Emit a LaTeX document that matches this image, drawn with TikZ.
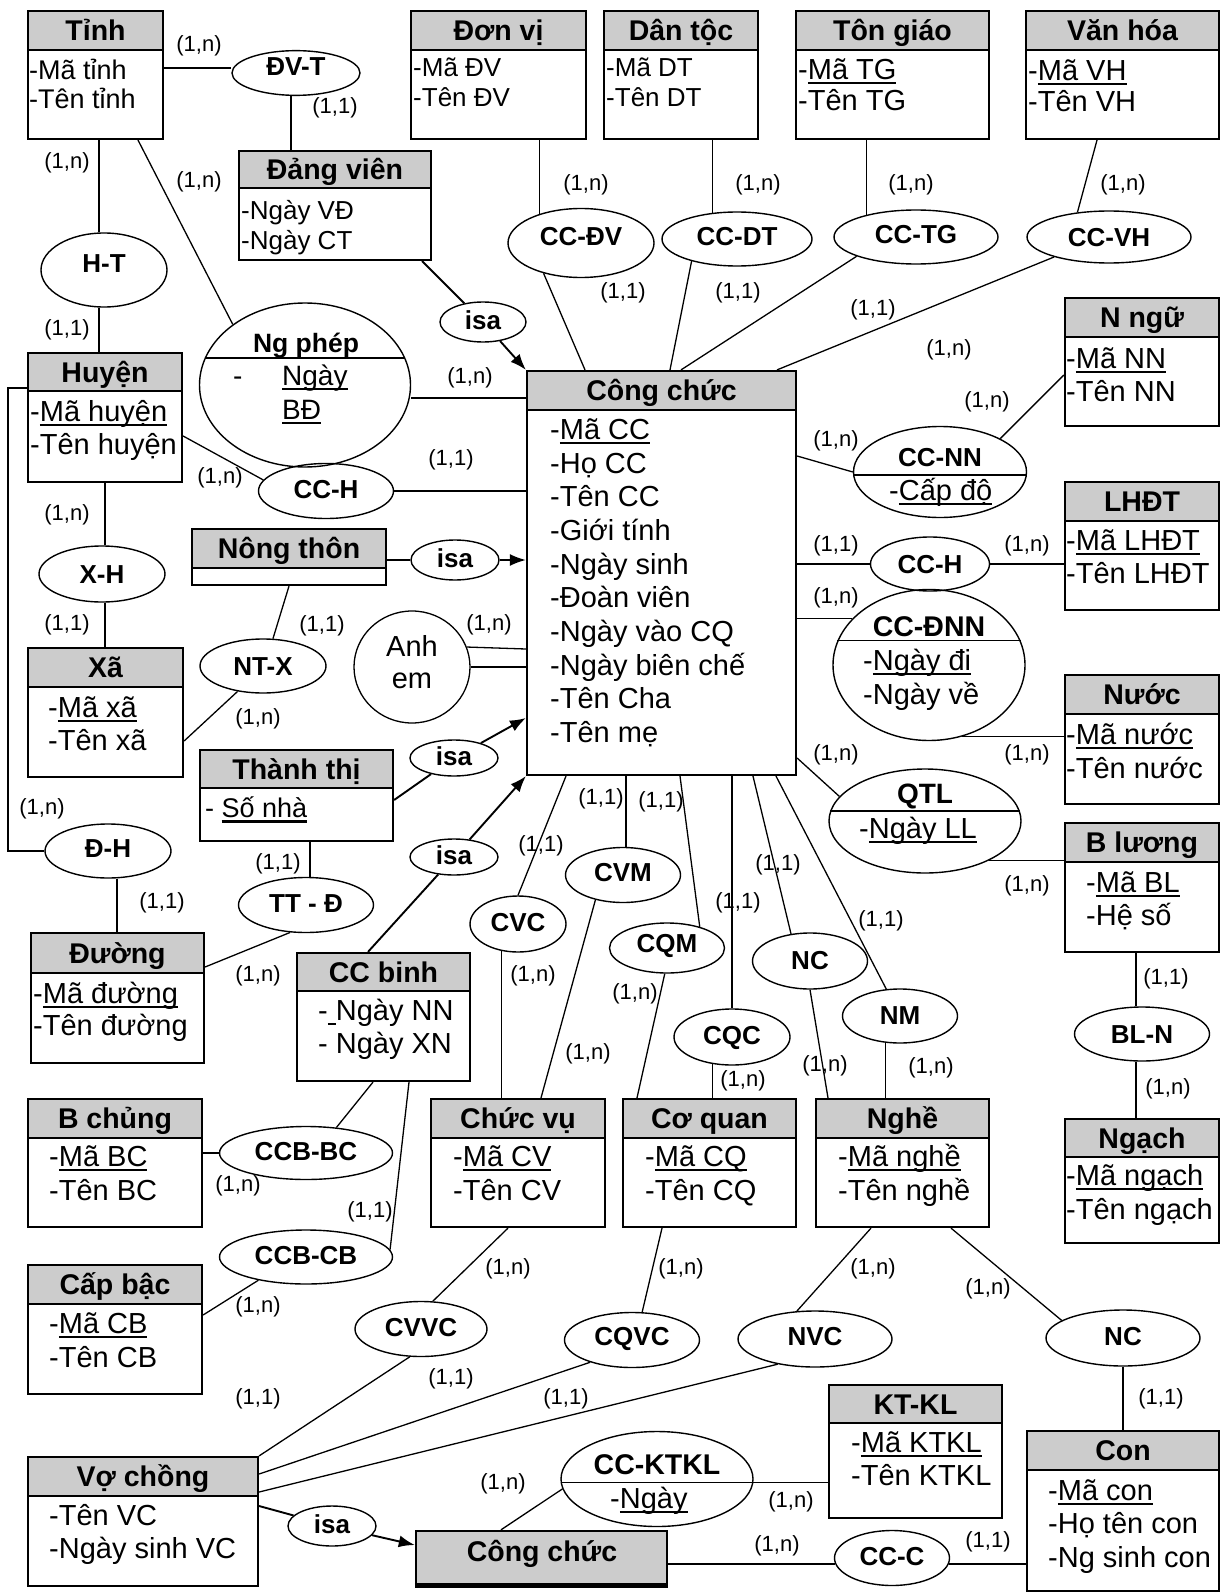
\documentclass[tikz,border=0pt]{standalone}
\usepackage{fontspec}
\setmainfont{Liberation Sans}
\usetikzlibrary{shapes.geometric,fit,arrows.meta}
\definecolor{hdr}{RGB}{204,204,204}
\newcommand\ul[1]{\setbox0=\hbox{#1}\rlap{\rule[-5pt]{\wd0}{2.2pt}}\box0}
\newcommand\fsz[1]{\fontsize{#1pt}{#1pt}\selectfont}
\newcommand\ttlfont{\bfseries\fsz{28.5}}
\newcommand\relfont{\bfseries\fsz{26}}
\newcommand\labfont{\fsz{22}}
\newcommand\ent[7]{%
  \node[ebox, fit={(#2,#3) (#4,#6)}] (#1) {};
  \node[ehead, fit={(#2,#3) (#4,#5)}] (#1h) {};
  \node[ttl] (#1t) at (#1h.center) {#7};}
\newcommand\lab[3]{\node[lab] (#1) at (#2) {#3};}
\tikzset{
  ebox/.style={draw, line width=2.2pt, fill=white, inner sep=0pt},
  ehead/.style={draw, line width=2.4pt, fill=hdr, inner sep=0pt},
  ttl/.style={inner sep=0pt, font=\ttlfont, text height=20.4pt, text depth=0pt},
  att/.style={anchor=west, inner sep=0pt, font=\fsz{29}, text height=20.8pt, text depth=0pt},
  att27/.style={att, font=\fsz{27}, text height=19.3pt},
  att26/.style={att, font=\fsz{26}, text height=18.6pt},
  rel/.style={ellipse, draw, line width=1.4pt, inner sep=0pt, font=\relfont, text height=18.6pt, text depth=4pt},
  sz/.style 2 args={minimum width=#1pt, minimum height=#2pt},
  rtitle/.style={inner sep=0pt, font=\relfont, text height=18.6pt, text depth=0pt},
  lab/.style={inner sep=0pt, font=\labfont},
  ln/.style={line width=1.3pt},
  isaln/.style={line width=1.9pt},
  arr/.style={isaln, -{Latex[length=16pt,width=12pt]}},
}
\begin{document}
\begin{tikzpicture}[x=1pt,y=-1pt]
\fill[white] (0,0) rectangle (1226,1594);
\useasboundingbox (0,0) rectangle (1226,1594);
% ---------------- entities
\ent{tinh}{28}{11}{163}{50}{139}{Tỉnh}
\ent{dv}{411}{11}{586}{50}{139}{Đơn vị}
\ent{dt}{604}{11}{758}{50}{139}{Dân tộc}
\ent{tg}{796}{11}{989}{50}{139}{Tôn giáo}
\ent{vh}{1026}{11}{1219}{50}{139}{Văn hóa}
\ent{dang}{239}{151}{431}{188}{260}{Đảng viên}
\ent{nngu}{1065}{298}{1219}{337}{426}{N ngữ}
\ent{huyen}{28}{353}{182}{391}{482}{Huyện}
\ent{cc}{527}{371}{796}{410}{775}{Công chức}
\ent{lhdt}{1065}{482}{1219}{521}{610}{LHĐT}
\ent{nt}{192}{529}{386}{568}{585}{Nông thôn}
\ent{xa}{28}{648}{183}{687}{777}{Xã}
\ent{nuoc}{1065}{675}{1219}{714}{804}{Nước}
\ent{tt}{200}{750}{393}{788}{841}{Thành thị}
\ent{bl}{1065}{823}{1219}{862}{952}{B lương}
\ent{duong}{31}{933}{204}{973}{1063}{Đường}
\ent{ccb}{297}{953}{470}{991}{1081}{CC binh}
\ent{bc}{28}{1099}{202}{1138}{1227}{B chủng}
\ent{cv}{431}{1099}{605}{1138}{1227}{Chức vụ}
\ent{cq}{623}{1099}{796}{1138}{1227}{Cơ quan}
\ent{nghe}{816}{1099}{989}{1138}{1227}{Nghề}
\ent{ngach}{1065}{1119}{1219}{1157}{1243}{Ngạch}
\ent{cb}{28}{1265}{202}{1304}{1394}{Cấp bậc}
\ent{ktkl}{829}{1385}{1002}{1423}{1518}{KT-KL}
\ent{con}{1027}{1431}{1219}{1470}{1591}{Con}
\ent{vc}{28}{1457}{258}{1496}{1586}{Vợ chồng}
\node[ehead, fit={(416,1531) (667,1584)}] (cc2) {};
\draw[line width=5pt] (cc2.south west) -- (cc2.south east);
\node[ttl] (cc2t) at (542,1551) {Công chức};
% ---------------- attributes
\node[att27] (tinh-a1) at (29,70) {-Mã tỉnh};
\node[att27] (tinh-a2) at (29,99) {-Tên tỉnh};
\node[att26] (dv-a1) at (413,67) {-Mã ĐV};
\node[att26] (dv-a2) at (413,97) {-Tên ĐV};
\node[att26] (dt-a1) at (606,67) {-Mã DT};
\node[att26] (dt-a2) at (606,97) {-Tên DT};
\node[att] (tg-a1) at (798,69) {-\ul{Mã TG}};
\node[att] (tg-a2) at (798,100) {-Tên TG};
\node[att] (vh-a1) at (1028,70) {-\ul{Mã VH}};
\node[att] (vh-a2) at (1028,101) {-Tên VH};
\node[att26] (dang-a1) at (241,210) {-Ngày VĐ};
\node[att26] (dang-a2) at (241,240) {-Ngày CT};
\node[att] (nngu-a1) at (1066,358) {-\ul{Mã NN}};
\node[att] (nngu-a2) at (1066,391) {-Tên NN};
\node[att] (huyen-a1) at (30,411) {-\ul{Mã huyện}};
\node[att] (huyen-a2) at (30,444) {-Tên huyện};
\node[att] (cc-a1) at (550,429) {-\ul{Mã CC}};
\node[att] (cc-a2) at (550,463) {-Họ CC};
\node[att] (cc-a3) at (550,496) {-Tên CC};
\node[att] (cc-a4) at (550,530) {-Giới tính};
\node[att] (cc-a5) at (550,564) {-Ngày sinh};
\node[att] (cc-a6) at (550,597) {-Đoàn viên};
\node[att] (cc-a7) at (550,631) {-Ngày vào CQ};
\node[att] (cc-a8) at (550,665) {-Ngày biên chế};
\node[att] (cc-a9) at (550,698) {-Tên Cha};
\node[att] (cc-a10) at (550,732) {-Tên mẹ};
\node[att] (lhdt-a1) at (1066,540) {-\ul{Mã LHĐT}};
\node[att] (lhdt-a2) at (1066,573) {-Tên LHĐT};
\node[att] (xa-a1) at (48,707) {-\ul{Mã xã}};
\node[att] (xa-a2) at (48,740) {-Tên xã};
\node[att] (nuoc-a1) at (1066,734) {-\ul{Mã nước}};
\node[att] (nuoc-a2) at (1066,768) {-Tên nước};
\node[att27] (tt-a1) at (205,808) {- \ul{Số nhà}};
\node[att] (bl-a1) at (1086,882) {-\ul{Mã BL}};
\node[att] (bl-a2) at (1086,915) {-Hệ số};
\node[att] (duong-a1) at (33,993) {-\ul{Mã đường}};
\node[att] (duong-a2) at (33,1025) {-Tên đường};
\node[att] (ccb-a1) at (318,1010) {-\ul{\ }Ngày NN};
\node[att] (ccb-a2) at (318,1043) {- Ngày XN};
\node[att] (bc-a1) at (49,1156) {-\ul{Mã BC}};
\node[att] (bc-a2) at (49,1190) {-Tên BC};
\node[att] (cv-a1) at (453,1156) {-\ul{Mã CV}};
\node[att] (cv-a2) at (453,1190) {-Tên CV};
\node[att] (cq-a1) at (645,1156) {-\ul{Mã CQ}};
\node[att] (cq-a2) at (645,1190) {-Tên CQ};
\node[att] (nghe-a1) at (838,1156) {-\ul{Mã nghề}};
\node[att] (nghe-a2) at (838,1190) {-Tên nghề};
\node[att] (ngach-a1) at (1066,1175) {-\ul{Mã ngạch}};
\node[att] (ngach-a2) at (1066,1209) {-Tên ngạch};
\node[att] (cb-a1) at (49,1323) {-\ul{Mã CB}};
\node[att] (cb-a2) at (49,1357) {-Tên CB};
\node[att] (ktkl-a1) at (851,1442) {-\ul{Mã KTKL}};
\node[att] (ktkl-a2) at (851,1475) {-Tên KTKL};
\node[att] (con-a1) at (1048,1490) {-\ul{Mã con}};
\node[att] (con-a2) at (1048,1523) {-Họ tên con};
\node[att] (con-a3) at (1048,1557) {-Ng sinh con};
\node[att] (vc-a1) at (49,1515) {-Tên VC};
\node[att] (vc-a2) at (49,1548) {-Ngày sinh VC};
% ---------------- relationships
\node[rel, sz={128}{43}, text depth=13pt] (dvt) at (296,73) {ĐV-T};
\node[rel, sz={126}{74}, text depth=13pt] (ht) at (104,270) {H-T};
\node[rel, sz={146}{69}, text depth=14pt] (ccdv) at (581,243) {CC-ĐV};
\node[rel, sz={150}{54}, text depth=6pt] (ccdt) at (737,239) {CC-DT};
\node[rel, sz={164}{54}, text depth=6pt] (cctg) at (916,237) {CC-TG};
\node[rel, sz={164}{52}, text depth=0pt] (ccvh) at (1109,237) {CC-VH};
\node[rel, sz={86}{40}] (isa1) at (483,322) {isa};
\node[rel, sz={135}{55}] (cch1) at (326,491) {CC-H};
\node[rel, sz={119}{54}, text depth=0pt] (cch2) at (930,564) {CC-H};
\node[rel, sz={126}{56}, text depth=0pt] (xh) at (102,574) {X-H};
\node[rel, sz={88}{40}] (isa2) at (455,560) {isa};
\node[rel, sz={126}{54}, text depth=0pt] (ntx) at (263,666) {NT-X};
\node[rel, sz={88}{36}] (isa3) at (454,758) {isa};
\node[rel, sz={126}{54}, text depth=5pt] (dh) at (108,851) {Đ-H};
\node[rel, sz={135}{55}, text depth=3pt] (ttd) at (306,905) {TT - Đ};
\node[rel, sz={88}{36}] (isa4) at (454,857) {isa};
\node[rel, sz={96}{56}] (cvc) at (518,924) {CVC};
\node[rel, sz={115}{55}, text depth=6pt] (cvm) at (623,875) {CVM};
\node[rel, sz={115}{50}, text depth=9pt] (cqm) at (667,948) {CQM};
\node[rel, sz={116}{56}] (cqc) at (732,1037) {CQC};
\node[rel, sz={115}{56}, text depth=2pt] (nc1) at (810,961) {NC};
\node[rel, sz={115}{54}, text depth=2pt] (nm) at (900,1016) {NM};
\node[rel, sz={135}{54}, text depth=0pt] (bln) at (1142,1034) {BL-N};
\node[rel, sz={173}{53}] (ccbbc) at (306,1153) {CCB-BC};
\node[rel, sz={173}{54}, text depth=3pt] (ccbcb) at (306,1257) {CCB-CB};
\node[rel, sz={132}{55}] (cvvc) at (421,1329) {CVVC};
\node[rel, sz={135}{55}, text depth=7pt] (cqvc) at (632,1340) {CQVC};
\node[rel, sz={154}{56}, text depth=6pt] (nvc) at (815,1339) {NVC};
\node[rel, sz={154}{56}, text depth=3pt] (nc2) at (1123,1338) {NC};
\node[rel, sz={115}{55}] (ccc) at (892,1558) {CC-C};
\node[rel, sz={88}{40}] (isa5) at (332,1526) {isa};
% partitioned ellipses
\node[rel, sz={211}{164}] (npep) at (305,385) {};
\node[rtitle, font=\bfseries\fsz{26.5}] (npep-t) at (306,343) {Ng phép};
\node[att, font=\fsz{28}] (npep-a0) at (233,375) {-};
\node[att, font=\fsz{28}] (npep-a1) at (282,375) {\ul{Ngày}};
\node[att, font=\fsz{28}] (npep-a2) at (282,409) {\ul{BĐ}};
\node[rel, sz={173}{91}] (ccnn) at (940,472) {};
\node[rtitle] (ccnn-t) at (940,457) {CC-NN};
\node[att] (ccnn-a1) at (889,490) {-\ul{Cấp độ}};
\node[rel, sz={192}{151}] (ccdnn) at (929,665) {};
\node[rtitle, font=\bfseries\fsz{28.5}, text height=20.4pt] (ccdnn-t) at (929,626) {CC-ĐNN};
\node[att] (ccdnn-a1) at (863,660) {-\ul{Ngày đi}};
\node[att] (ccdnn-a2) at (863,694) {-Ngày về};
\node[rel, sz={192}{104}] (qtl) at (925,821) {};
\node[rtitle, font=\bfseries\fsz{28}, text height=20pt] (qtl-t) at (925,793) {QTL};
\node[att] (qtl-a1) at (859,828) {-\ul{Ngày LL}};
\node[rel, sz={192}{95}] (ccktkl) at (657,1479) {};
\node[rtitle, font=\bfseries\fsz{28.5}, text height=20.4pt] (ccktkl-t) at (657,1464) {CC-KTKL};
\node[att] (ccktkl-a1) at (610,1498) {-\ul{Ngày}};
\node[ellipse, draw, ln, inner sep=0pt, sz={116}{112}] (anhem) at (412,667) {};
\node[att, anchor=center] (anhem-t1) at (412,646) {Anh};
\node[att, anchor=center] (anhem-t2) at (412,678) {em};
\draw[ln] (npep.165) -- (npep.15);
\draw[ln] (ccnn.182) -- (ccnn.358);
\draw[ln] (ccdnn.165) -- (ccdnn.15);
\draw[ln] (qtl.174) -- (qtl.6);
% ---------------- connectors
\draw[ln] (tinh.east |- 0,68) -- (dvt.west |- 0,68);
\draw[ln] (dvt.south -| 291,0) -- (dang.north -| 291,0);
\draw[ln] (tinh.south -| 99,0) -- (ht.north -| 99,0);
\draw[ln] (ht.south -| 99,0) -- (huyen.north -| 99,0);
\draw[ln] (tinh.south -| 138,0) -- (npep.140);
\draw[ln] ([yshift=-13pt]npep.east) -- (cc.west |- 0,398);
\draw[isaln] (dang.south -| 422,0) -- (isa1);
\draw[arr] (isa1) -- (cc.north west);
\draw[ln] (dv.south -| ccdv.145) -- (ccdv.145);
\draw[ln] (ccdv.219) -- (cc.north -| 585,0);
\draw[ln] (dt.south -| ccdt.133) -- (ccdt.133);
\draw[ln] (ccdt.206) -- (cc.north -| 670,0);
\draw[ln] (tg.south -| cctg.156) -- (cctg.156);
\draw[ln] (cctg.198) -- (cc.north -| 681,0);
\draw[ln] (vh.south -| 1097,0) -- (ccvh.142);
\draw[ln] (ccvh.200) -- (cc.north -| 777,0);
\draw[ln] (cc.east |- 0,456) -- (ccnn.west);
\draw[ln] (ccnn.29) -- (nngu.west |- 0,375);
\draw[ln] (cc.east |- cch2.west) -- (cch2.west);
\draw[ln] (cch2.east) -- (lhdt.west |- cch2.east);
\draw[ln] (cc.east |- ccdnn.149) -- (ccdnn.149);
\draw[ln] (ccdnn.295) -- (nuoc.west |- ccdnn.295);
\draw[ln] (cc.east |- 0,758) -- (qtl.164);
\draw[ln] (qtl.328) -- (bl.west |- qtl.328);
\draw[ln] (bl.south -| 1136,0) -- (bln.north -| 1136,0);
\draw[ln] (bln.south -| 1136,0) -- (ngach.north -| 1136,0);
\draw[ln] (huyen.east |- 0,436) -- (cch1.170);
\draw[ln] (cch1.east) -- (cc.west |- cch1.east);
\draw[ln] (huyen.south -| 105,0) -- (xh.north -| 105,0);
\draw[ln] (xh.south -| 105,0) -- (xa.north -| 105,0);
\draw[ln] (xa.east |- 0,741) -- (ntx.225);
\draw[ln] (ntx.70) -- (nt.south -| 289,0);
\draw[ln] (nt.east |- isa2) -- (isa2);
\draw[arr] (isa2) -- (cc.west |- isa2);
\draw[ln] (anhem.20) -- (cc.west |- 0,649);
\draw[ln] (anhem.east) -- (cc.west |- anhem.east);
\draw[isaln] (tt.east |- 0,800) -- (isa3);
\draw[arr] (isa3) -- (cc.west |- 0,718);
\draw[ln] (tt.south -| 310,0) -- (ttd.north -| 310,0);
\draw[ln] (duong.east |- 0,967) -- (ttd.240);
\draw[ln] (huyen.west |- 0,388) -- ++(-19,0) |- (dh.west);
\draw[ln] (dh.south -| 117,0) -- (duong.north -| 117,0);
\draw[isaln] (ccb.north -| 368,0) -- (isa4);
\draw[arr] (isa4) -- (cc.south west);
\draw[ln] (cc.south -| 566,0) -- (cvc.north);
\draw[ln] (cvc.239) -- (cv.north -| cvc.239);
\draw[ln] (cc.south -| 626,0) -- (cvm.north -| 626,0);
\draw[ln] (cvm.222) -- (cv.north -| 541,0);
\draw[ln] (cc.south -| 680,0) -- (cqm.33);
\draw[ln] (cqm.265) -- (cq.north -| 637,0);
\draw[ln] (cc.south -| cqc.north) -- (cqc.north);
\draw[ln] (cqc.234) -- (cq.north -| cqc.234);
\draw[ln] (cc.south -| 753,0) -- (nc1.125);
\draw[ln] (nc1.south) -- (nghe.north -| 828,0);
\draw[ln] (cc.south -| 776,0) -- (nm.117);
\draw[ln] (nm.242) -- (nghe.north -| nm.242);
\draw[ln] (bc.east |- ccbbc.west) -- (ccbbc.west);
\draw[ln] (ccb.south -| 373,0) -- (ccbbc.40);
\draw[ln] (ccb.south -| 409,0) -- (ccbcb.5);
\draw[ln] (cb.east |- 0,1315) -- (ccbcb.206);
\draw[ln] (cv.south -| 508,0) -- (cvvc.67);
\draw[ln] (cq.south -| 662,0) -- (cqvc.70);
\draw[ln] (nghe.south -| 871,0) -- (nvc.123);
\draw[ln] (nghe.south -| 951,0) -- (nc2.164);
\draw[ln] (nc2.south) -- (con.north -| nc2.south);
\draw[ln] (vc.north east) -- (cvvc.248);
\draw[ln] (vc.east |- 0,1474) -- (cqvc.208);
\draw[ln] (vc.east |- 0,1492) -- (nvc.214);
\draw[isaln] (vc.east |- 0,1506) -- (isa5);
\draw[arr] (isa5) -- (cc2.west |- 0,1545);
\draw[ln] (ccktkl.182) -- (ktkl.west |- ccktkl.182);
\draw[ln] (cc2.north -| 501,0) -- (ccktkl.186);
\draw[ln] (cc2.east |- ccc.186) -- (ccc.186);
\draw[ln] (ccc.354) -- (con.west |- ccc.354);
% ---------------- cardinality labels
\lab{l1}{199,46}{(1,n)}
\lab{l2}{335,108}{(1,1)}
\lab{l3}{67,163}{(1,n)}
\lab{l4}{199,182}{(1,n)}
\lab{l5}{67,330}{(1,1)}
\lab{l6}{586,185}{(1,n)}
\lab{l7}{758,185}{(1,n)}
\lab{l8}{911,185}{(1,n)}
\lab{l9}{1123,185}{(1,n)}
\lab{l10}{623,293}{(1,1)}
\lab{l11}{738,293}{(1,1)}
\lab{l12}{873,310}{(1,1)}
\lab{l13}{949,350}{(1,n)}
\lab{l14}{987,402}{(1,n)}
\lab{l15}{470,378}{(1,n)}
\lab{l16}{836,441}{(1,n)}
\lab{l17}{451,460}{(1,1)}
\lab{l18}{220,478}{(1,n)}
\lab{l19}{836,546}{(1,1)}
\lab{l20}{1027,546}{(1,n)}
\lab{l21}{67,515}{(1,n)}
\lab{l22}{836,598}{(1,n)}
\lab{l23}{322,626}{(1,1)}
\lab{l24}{67,625}{(1,1)}
\lab{l25}{489,625}{(1,n)}
\lab{l26}{258,719}{(1,n)}
\lab{l27}{1027,755}{(1,n)}
\lab{l28}{836,755}{(1,n)}
\lab{l29}{42,809}{(1,n)}
\lab{l30}{601,799}{(1,1)}
\lab{l31}{661,802}{(1,1)}
\lab{l32}{541,846}{(1,1)}
\lab{l33}{278,864}{(1,1)}
\lab{l34}{162,903}{(1,1)}
\lab{l35}{1027,886}{(1,n)}
\lab{l36}{778,865}{(1,1)}
\lab{l37}{738,903}{(1,1)}
\lab{l38}{881,921}{(1,1)}
\lab{l39}{258,976}{(1,n)}
\lab{l40}{533,976}{(1,n)}
\lab{l41}{1166,979}{(1,1)}
\lab{l42}{635,994}{(1,n)}
\lab{l43}{588,1054}{(1,n)}
\lab{l44}{825,1066}{(1,n)}
\lab{l45}{931,1068}{(1,n)}
\lab{l46}{743,1081}{(1,n)}
\lab{l47}{1168,1089}{(1,n)}
\lab{l48}{238,1186}{(1,n)}
\lab{l49}{370,1212}{(1,1)}
\lab{l50}{508,1269}{(1,n)}
\lab{l51}{681,1269}{(1,n)}
\lab{l52}{873,1269}{(1,n)}
\lab{l53}{988,1289}{(1,n)}
\lab{l54}{258,1307}{(1,n)}
\lab{l55}{451,1379}{(1,1)}
\lab{l56}{566,1399}{(1,1)}
\lab{l57}{258,1399}{(1,1)}
\lab{l58}{1161,1399}{(1,1)}
\lab{l59}{503,1484}{(1,n)}
\lab{l60}{791,1502}{(1,n)}
\lab{l61}{777,1546}{(1,n)}
\lab{l62}{988,1542}{(1,1)}
\end{tikzpicture}
\end{document}
